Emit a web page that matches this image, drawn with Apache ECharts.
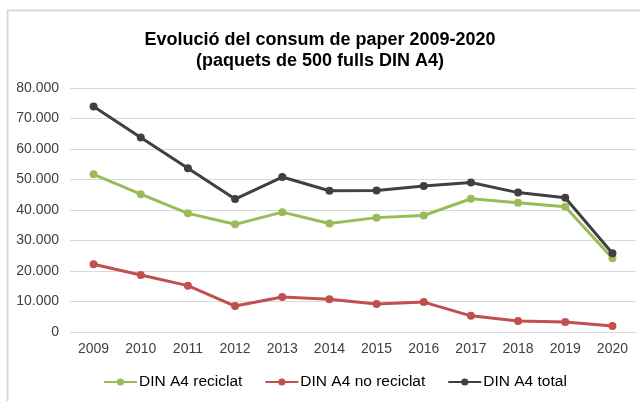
<!DOCTYPE html>
<html>
<head>
<meta charset="utf-8">
<script src="https://cdn.jsdelivr.net/npm/echarts@6/dist/echarts.min.js"></script>
<style>
html,body{margin:0;padding:0;background:#fff;}
#main{width:640px;height:401px;}
</style>
</head>
<body>
<div id="main"></div>
<script>
var years = ['2009','2010','2011','2012','2013','2014','2015','2016','2017','2018','2019','2020'];
var reciclat = [51700, 45200, 38900, 35300, 39300, 35600, 37500, 38200, 43700, 42400, 41100, 24200];
var noReciclat = [22200, 18700, 15200, 8500, 11500, 10700, 9200, 9800, 5300, 3600, 3300, 2000];
var total = [73900, 63800, 53700, 43600, 50800, 46300, 46400, 47900, 49000, 45700, 44000, 25800];
var seriesNames = ['DIN A4 reciclat', 'DIN A4 no reciclat', 'DIN A4 total'];
var titleText = 'Evolució del consum de paper 2009-2020\n(paquets de 500 fulls DIN A4)';

var FONT = '"Liberation Sans", Arial, sans-serif';
var chart = echarts.init(document.getElementById('main'), null, {renderer: 'canvas'});

function fmt(v) {
  if (v === 0) return '0';
  return String(v).replace(/\B(?=(\d{3})+(?!\d))/g, '.');
}

function mkSeries(name, data, color) {
  return {
    name: name, type: 'line', data: data,
    symbol: 'circle', symbolSize: 8,
    lineStyle: {color: color, width: 3},
    itemStyle: {color: color},
    animation: false
  };
}

chart.setOption({
  animation: false,
  textStyle: {fontFamily: FONT},
  graphic: [{
    type: 'rect', left: 5, top: 8,
    shape: {width: 640, height: 400},
    style: {fill: 'none', stroke: '#d9d9d9', lineWidth: 2}
  }],
  title: {
    text: titleText,
    left: 'center', top: 25,
    textStyle: {fontFamily: FONT, fontSize: 18, fontWeight: 'bold', color: '#000', lineHeight: 21}
  },
  legend: {
    data: seriesNames,
    top: 369,
    left: 98,
    itemWidth: 33, itemHeight: 9, itemGap: 22,
    textStyle: {fontFamily: FONT, fontSize: 15.5, color: '#000', padding: [0,0,0,-3]}
  },
  grid: {left: 70, right: 4, top: 88, bottom: 69, containLabel: false},
  xAxis: {
    type: 'category', data: years, boundaryGap: true,
    axisLine: {show: true, lineStyle: {color: '#d9d9d9'}},
    axisTick: {show: false},
    axisLabel: {fontFamily: FONT, fontSize: 14, color: '#404040', margin: 10}
  },
  yAxis: {
    type: 'value', min: 0, max: 80000, interval: 10000,
    axisLine: {show: false}, axisTick: {show: false},
    splitLine: {lineStyle: {color: '#d9d9d9', width: 1}},
    axisLabel: {fontFamily: FONT, fontSize: 14, color: '#404040', margin: 11, formatter: fmt}
  },
  series: [
    mkSeries(seriesNames[0], reciclat, '#9BBB59'),
    mkSeries(seriesNames[1], noReciclat, '#C0504D'),
    mkSeries(seriesNames[2], total, '#404040')
  ]
});
</script>
</body>
</html>
